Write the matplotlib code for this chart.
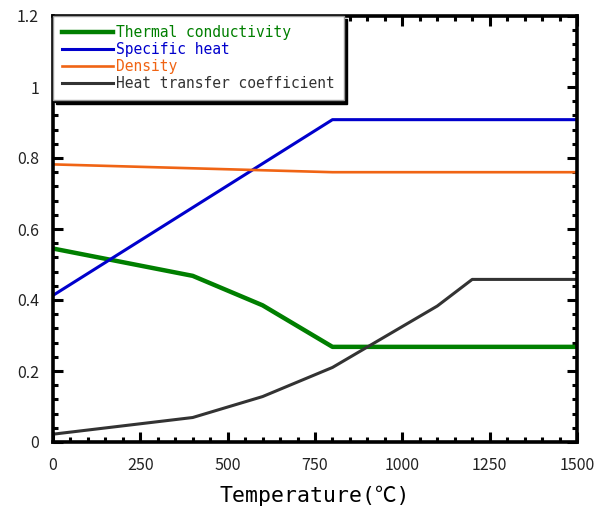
import matplotlib
matplotlib.use("Agg")
import matplotlib.pyplot as plt
from matplotlib.ticker import MultipleLocator

# Data
temp_tc = [0, 400, 600, 800, 1500]
thermal_conductivity = [0.545, 0.468, 0.385, 0.268, 0.268]
temp_sh = [0, 800, 1500]
specific_heat = [0.413, 0.908, 0.908]
temp_d = [0, 800, 1500]
density = [0.782, 0.760, 0.760]
temp_h = [0, 400, 600, 800, 1100, 1200, 1500]
heat_transfer = [0.022, 0.069, 0.128, 0.210, 0.383, 0.458, 0.458]

labels = ["Thermal conductivity", "Specific heat", "Density", "Heat transfer coefficient"]
colors = ["#007F00", "#0000CC", "#F06414", "#333333"]

mono = ["DejaVu Sans Mono", "Noto Sans CJK JP", "DejaVu Sans"]
tickfont = ["Noto Sans CJK JP", "DejaVu Sans"]

fig = plt.figure(figsize=(6.05, 5.14), dpi=100)
ax = fig.add_axes([53/605, 1 - 442/514, (577-53)/605, (442-16)/514])

ax.plot(temp_tc, thermal_conductivity, color=colors[0], lw=3.2, label=labels[0])
ax.plot(temp_sh, specific_heat, color=colors[1], lw=2.2, label=labels[1])
ax.plot(temp_d, density, color=colors[2], lw=1.9, label=labels[2])
ax.plot(temp_h, heat_transfer, color=colors[3], lw=2.2, label=labels[3])

ax.set_xlim(0, 1500)
ax.set_ylim(0, 1.2)
ax.xaxis.set_major_locator(MultipleLocator(250))
ax.xaxis.set_minor_locator(MultipleLocator(50))
ax.yaxis.set_minor_locator(MultipleLocator(0.04))
ax.set_yticks([0, 0.2, 0.4, 0.6, 0.8, 1.0, 1.2])
ax.set_yticklabels(["0", "0.2", "0.4", "0.6", "0.8", "1", "1.2"])

for s in ax.spines.values():
    s.set_linewidth(2.6)
ax.tick_params(which="both", direction="in", top=True, right=True, width=2.2, colors="black")
ax.tick_params(which="major", length=7)
ax.tick_params(which="minor", length=3.5)
ax.tick_params(axis="y", which="major", pad=10)
ax.tick_params(axis="x", which="major", pad=11)
for t in ax.get_xticklabels() + ax.get_yticklabels():
    t.set_fontfamily(tickfont)
    t.set_fontsize(11.5)
    t.set_color("#222222")

ax.set_xlabel("Temperature(℃)", fontsize=15.5, family=mono, labelpad=8)

leg = ax.legend(loc="upper left", borderaxespad=0, fancybox=False,
                shadow={"color": "black", "alpha": 1, "ox": 2.5, "oy": -2.5},
                prop={"family": mono, "size": 10.5},
                handlelength=3.5, handletextpad=0.25, labelspacing=0.15,
                borderpad=0.6, framealpha=1, edgecolor="#999999")
leg.get_frame().set_linewidth(1)
for txt, c in zip(leg.get_texts(), colors):
    txt.set_color(c)
leg.set_zorder(5)

fig.savefig("out.png", dpi=100)
